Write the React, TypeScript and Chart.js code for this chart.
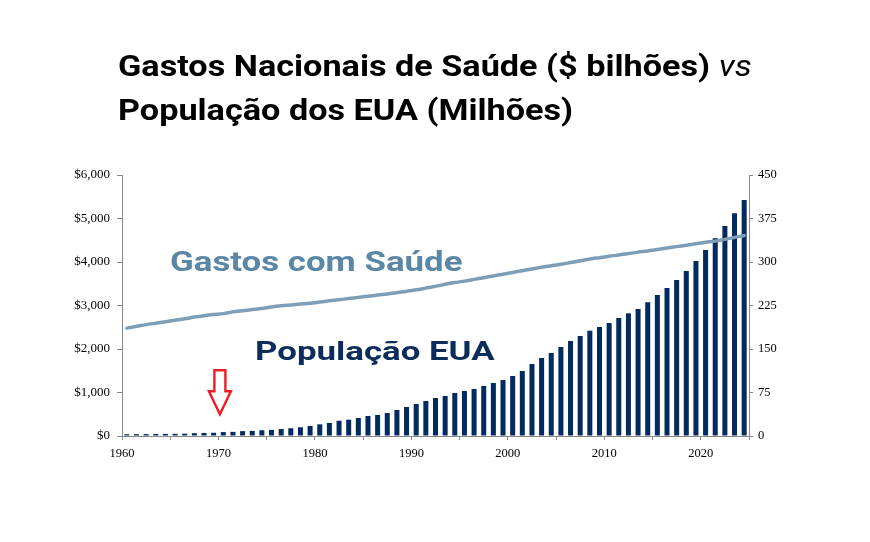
import React, { useEffect, useRef } from "react";
import { Chart, registerables } from "chart.js";

Chart.register(...registerables);

const years = [
  "1960", "1961", "1962", "1963", "1964", "1965", "1966", "1967", "1968", "1969",
  "1970", "1971", "1972", "1973", "1974", "1975", "1976", "1977", "1978", "1979",
  "1980", "1981", "1982", "1983", "1984", "1985", "1986", "1987", "1988", "1989",
  "1990", "1991", "1992", "1993", "1994", "1995", "1996", "1997", "1998", "1999",
  "2000", "2001", "2002", "2003", "2004", "2005", "2006", "2007", "2008", "2009",
  "2010", "2011", "2012", "2013", "2014", "2015", "2016", "2017", "2018", "2019",
  "2020", "2021", "2022", "2023", "2024",
];

// Gastos nacionais de saúde ($ bilhões) — barras, eixo esquerdo
const spending = [
  40, 42, 44, 46, 48, 50, 53, 65, 70, 74,
  90, 95, 112, 118, 132, 140, 160, 178, 200, 230,
  268, 299, 352, 375, 414, 460, 483, 529, 598, 667,
  736, 805, 874, 920, 989, 1034, 1080, 1149, 1218, 1287,
  1379, 1494, 1655, 1793, 1908, 2046, 2184, 2299, 2421, 2506,
  2598, 2713, 2820, 2920, 3073, 3241, 3402, 3586, 3793, 4023,
  4276, 4545, 4828, 5119, 5425,
];

// População dos EUA (milhões) — linha, eixo direito
const population = [
  186, 189, 192, 194.5, 197, 199.5, 202, 205, 207.5, 209.5,
  211, 214, 216, 218, 220, 222.5, 224.5, 226, 227.5, 229,
  231, 233, 235, 237, 239, 241, 243, 245, 247, 249.5,
  252, 255, 258, 261.5, 264.5, 267, 270, 273, 276, 279,
  282, 285, 288, 291, 293.5, 296, 299, 302, 305, 307.5,
  310, 312, 314.5, 317, 319, 321.5, 324, 326.5, 329, 331.5,
  334, 336, 339, 342.5, 345.5,
];

const leftTicks = [0, 1000, 2000, 3000, 4000, 5000, 6000];
const rightTicks = [0, 75, 150, 225, 300, 375, 450];
const xTickYears = [1960, 1970, 1980, 1990, 2000, 2010, 2020];

const AXIS_GRAY = "#8a8a8a";
const BAR_COLOR = "#012a5e";
const LINE_COLOR = "#7d9eb8";
const SERIF = "'Liberation Serif', 'Times New Roman', serif";

const arrowPlugin = {
  id: "arrowAnnot",
  afterDatasetsDraw(chart: any) {
    const xs = chart.scales.x2;
    const ys = chart.scales.y;
    const tipX = xs.getPixelForValue(1970.15);
    const tipY = ys.getPixelForValue(500);
    const ctx = chart.ctx;
    ctx.save();
    ctx.beginPath();
    ctx.moveTo(tipX, tipY);
    ctx.lineTo(tipX - 11, tipY - 23);
    ctx.lineTo(tipX - 5.5, tipY - 23);
    ctx.lineTo(tipX - 5.5, tipY - 44);
    ctx.lineTo(tipX + 5.5, tipY - 44);
    ctx.lineTo(tipX + 5.5, tipY - 23);
    ctx.lineTo(tipX + 11, tipY - 23);
    ctx.closePath();
    ctx.fillStyle = "#ffffff";
    ctx.fill();
    ctx.lineWidth = 2.4;
    ctx.lineJoin = "miter";
    ctx.strokeStyle = "#ed1c24";
    ctx.stroke();
    ctx.restore();
  },
};

export default function App() {
  const canvasRef = useRef<HTMLCanvasElement | null>(null);

  useEffect(() => {
    const canvas = canvasRef.current;
    if (!canvas) return;
    const chart = new Chart(canvas, {
      type: "bar",
      data: {
        labels: years,
        datasets: [
          {
            type: "line",
            label: "População dos EUA",
            data: population,
            xAxisID: "x",
            yAxisID: "y1",
            borderColor: LINE_COLOR,
            borderWidth: 3.5,
            pointRadius: 0,
            tension: 0.3,
            borderCapStyle: "round",
            order: 0,
          } as any,
          {
            type: "bar",
            label: "Gastos Nacionais de Saúde",
            data: spending,
            xAxisID: "x",
            yAxisID: "y",
            backgroundColor: BAR_COLOR,
            barPercentage: 0.52,
            categoryPercentage: 1,
            order: 1,
          } as any,
        ],
      },
      options: {
        animation: false,
        responsive: false,
        maintainAspectRatio: false,
        layout: { padding: { top: 175, left: 0, right: 0, bottom: 0 } },
        plugins: {
          legend: { display: false },
          tooltip: { enabled: false },
          title: { display: false },
        },
        scales: {
          x: { type: "category", display: false, offset: true },
          x2: {
            type: "linear",
            position: "bottom",
            min: 1960,
            max: 2025,
            offset: false,
            ticks: {
              stepSize: 5,
              autoSkip: false,
              maxRotation: 0,
              padding: 6,
              color: "#000",
              font: { family: SERIF, size: 12.5 },
              callback: (v: any) => (xTickYears.includes(Number(v)) ? String(v) : ""),
            },
            grid: { offset: false, drawOnChartArea: false, drawTicks: true, tickLength: 4, color: AXIS_GRAY },
            border: { display: true, color: AXIS_GRAY, width: 1 },
            afterFit: (s: any) => {
              s.height = 106;
            },
          },
          y: {
            position: "left",
            min: 0,
            max: 6000,
            afterBuildTicks: (s: any) => {
              s.ticks = leftTicks.map((v) => ({ value: v }));
            },
            ticks: {
              padding: 7,
              color: "#000",
              font: { family: SERIF, size: 13 },
              callback: (v: any) => "$" + Number(v).toLocaleString("en-US"),
            },
            grid: { drawOnChartArea: false, drawTicks: true, tickLength: 5, color: AXIS_GRAY },
            border: { display: true, color: AXIS_GRAY, width: 1 },
            afterFit: (s: any) => {
              s.width = 122;
            },
          },
          y1: {
            position: "right",
            min: 0,
            max: 450,
            afterBuildTicks: (s: any) => {
              s.ticks = rightTicks.map((v) => ({ value: v }));
            },
            ticks: {
              padding: 5,
              color: "#000",
              font: { family: SERIF, size: 12.5 },
              callback: (v: any) => String(v),
            },
            grid: { drawOnChartArea: false, drawTicks: true, tickLength: 4, color: AXIS_GRAY },
            border: { display: true, color: AXIS_GRAY, width: 1 },
            afterFit: (s: any) => {
              s.width = 121;
            },
          },
        },
      } as any,
      plugins: [arrowPlugin],
    });
    return () => chart.destroy();
  }, []);

  return (
    <div
      style={{
        position: "fixed",
        left: 0,
        top: 0,
        width: 870,
        height: 542,
        background: "#ffffff",
        overflow: "hidden",
      }}
    >
      <canvas ref={canvasRef} width={870} height={542} style={{ display: "block", width: 870, height: 542 }} />
      <div
        style={{
          position: "absolute",
          left: 118,
          top: 44,
          fontFamily: "Roboto, 'Liberation Sans', sans-serif",
          fontWeight: 700,
          fontSize: 29,
          lineHeight: "44px",
          color: "#000",
          whiteSpace: "nowrap",
          transform: "scaleX(1.18)",
          transformOrigin: "0 0",
        }}
      >
        <div>
          Gastos Nacionais de Saúde ($ bilhões){" "}
          <span style={{ fontStyle: "italic", fontWeight: 400 }}>vs</span>
        </div>
        <div>População dos EUA (Milhões)</div>
      </div>
      <div
        style={{
          position: "absolute",
          left: 170,
          top: 249,
          fontFamily: "Roboto, 'Liberation Sans', sans-serif",
          fontWeight: 700,
          fontSize: 27,
          lineHeight: "27px",
          color: "#5b87a6",
          whiteSpace: "nowrap",
          transform: "scaleX(1.29)",
          transformOrigin: "0 0",
        }}
      >
        Gastos com Saúde
      </div>
      <div
        style={{
          position: "absolute",
          left: 255,
          top: 338,
          fontFamily: "Roboto, 'Liberation Sans', sans-serif",
          fontWeight: 700,
          fontSize: 26,
          lineHeight: "26px",
          color: "#0c2d5c",
          whiteSpace: "nowrap",
          transform: "scaleX(1.34)",
          transformOrigin: "0 0",
        }}
      >
        População EUA
      </div>
    </div>
  );
}
